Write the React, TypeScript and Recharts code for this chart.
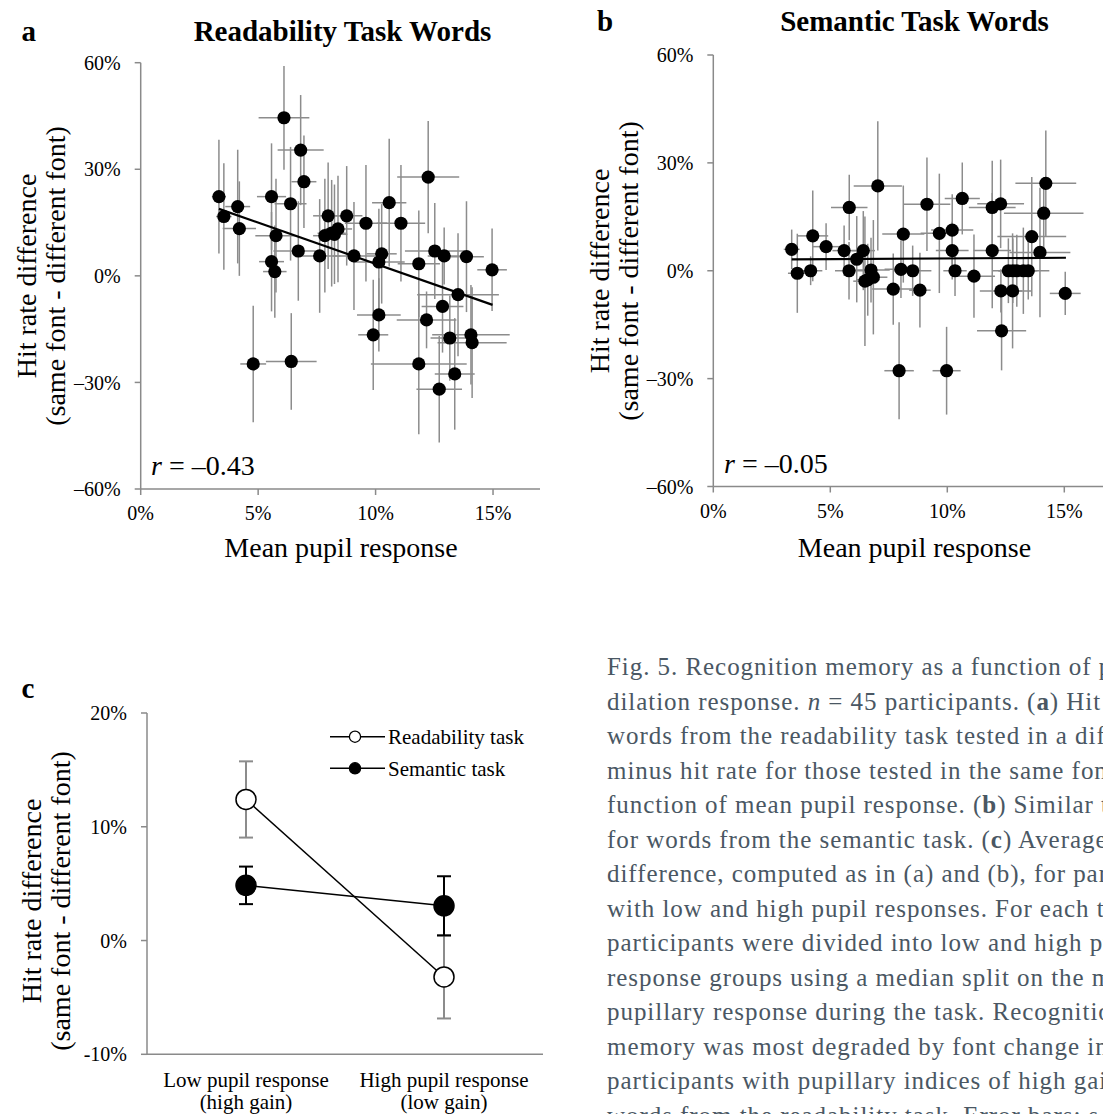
import React from 'react';
import {
  ScatterChart, Scatter, XAxis, YAxis, ErrorBar, ReferenceLine,
  LineChart, Line, Legend,
} from 'recharts';

const FONT = '"Liberation Serif", "Times New Roman", serif';

// ---------- Panel a: Readability task words ----------
const readPupil = [6.10, 6.81, 6.95, 3.33, 5.57, 6.38, 4.13, 3.54, 7.98, 4.20, 5.76, 7.84, 8.13, 8.40, 6.71, 7.62, 5.57, 5.71, 4.79, 6.41, 8.77, 9.59, 10.58, 11.08, 12.24, 9.08, 10.26, 10.14, 11.84, 12.52, 12.92, 13.87, 14.96, 13.51, 12.85, 12.17, 10.14, 9.90, 13.16, 14.06, 14.11, 11.84, 13.37, 12.71, 8.25];
const readHit = [44.5, 35.4, 26.5, 22.3, 22.3, 20.3, 19.5, 16.7, 16.9, 13.3, 11.3, 11.3, 12.0, 13.2, 7.0, 5.6, 4.0, 1.2, -24.8, -24.1, 16.9, 14.8, 20.6, 14.8, 27.8, 5.6, 6.2, 3.9, 3.4, 7.0, 5.6, 5.4, 1.7, -5.3, -8.6, -12.4, -11.0, -16.6, -17.5, -16.6, -18.8, -24.8, -27.6, -31.9, 11.7];
const readPupilErr = [1.08, 0.98, 0.53, 0.30, 0.62, 0.68, 0.53, 0.33, 0.64, 0.71, 0.88, 0.50, 0.60, 0.60, 1.06, 0.88, 0.53, 0.50, 0.55, 1.08, 0.67, 0.90, 0.73, 1.03, 1.32, 0.90, 0.64, 1.10, 0.90, 1.27, 0.70, 0.74, 0.63, 1.74, 0.89, 1.27, 0.93, 0.64, 0.82, 1.65, 1.47, 2.04, 0.85, 0.97, 0.55];
const readHitErr = [14.6, 15.5, 13, 16, 15, 16, 16, 15, 15, 13.3, 16, 16, 15, 15, 14, 16, 14, 13, 16.4, 13.6, 14, 16.4, 18, 16.4, 15.8, 15.2, 14, 15, 15, 13.5, 8, 15.6, 11.6, 17.3, 13, 8, 10.3, 15.5, 12, 14, 15.6, 19.8, 15.7, 15, 14];
const readFitX = [3.33, 14.98];
const readFitY = [18.85, -8.16];

// ---------- Panel b: Semantic task words ----------
const semPupil = [3.35, 3.59, 4.16, 4.25, 4.82, 5.59, 5.81, 5.80, 6.13, 6.41, 6.74, 6.84, 6.48, 7.03, 7.69, 8.02, 8.52, 8.12, 8.83, 9.13, 9.66, 7.94, 9.97, 10.21, 10.21, 10.33, 10.64, 11.14, 11.92, 12.28, 11.92, 12.29, 12.79, 12.32, 12.61, 12.97, 13.25, 13.46, 13.61, 13.96, 14.12, 14.21, 15.04, 6.60, 12.80];
const semHit = [5.95, -0.7, 0.0, 9.7, 6.7, 5.6, 17.6, 0.0, 3.2, 5.6, 0.2, -1.8, -2.9, 23.6, -5.1, 0.4, 0.0, 10.2, -5.4, 18.5, 10.4, -27.8, -27.8, 11.3, 5.6, 0.0, 20.1, -1.5, 17.6, 18.6, 5.6, -5.6, -5.6, -16.7, 0.0, 0.0, 0.0, 0.0, 9.5, 5.1, 16.0, 24.3, -6.3, -2.5, 0.0];
const semPupilErr = [0.34, 0.4, 0.5, 0.66, 0.6, 0.5, 0.78, 0.6, 0.5, 0.5, 0.8, 0.6, 0.5, 1.03, 0.9, 0.7, 0.8, 0.9, 0.46, 1.0, 0.8, 0.63, 0.6, 0.9, 0.7, 0.5, 0.75, 0.9, 1.0, 1.0, 0.8, 0.9, 0.8, 1.05, 0.7, 0.8, 0.6, 0.9, 1.47, 1.3, 1.7, 1.3, 0.66, 0.5, 0.6];
const semHitErr = [5.5, 11, 4, 12.6, 6.5, 7, 9.1, 8, 12, 11, 9, 15.9, 18, 18, 9.9, 8, 7, 13.5, 10.4, 13, 16.6, 13.5, 12.2, 10, 8, 7, 10, 11.6, 13, 12.3, 16, 6, 16, 11, 9, 10, 12, 8, 16.6, 18, 10, 14.7, 6, 10, 9];
const semFitX = [3.35, 15.07];
const semFitY = [3.17, 3.62];

// ---------- Ticks ----------
const scatterXTicks = [0, 5, 10, 15];
const scatterXTickLabels = ['0%', '5%', '10%', '15%'];
const scatterYTicks = [-60, -30, 0, 30, 60];
const scatterYTickLabels = ['–60%', '–30%', '0%', '30%', '60%'];

// ---------- Panel c ----------
const groups = ['Low pupil response', 'High pupil response'];
const groupsSub = ['(high gain)', '(low gain)'];
const readGroupMean = [12.4, -3.2];
const readGroupErr = [3.35, 3.65];
const semGroupMean = [4.85, 3.05];
const semGroupErr = [1.65, 2.6];
const seriesNames = ['Readability task', 'Semantic task'];
const groupYTicks = [-10, 0, 10, 20];
const groupYTickLabels = ['-10%', '0%', '10%', '20%'];
const groupEdgeTicks = [0, 1, 2];

const captionLines = [
  'Fig. 5. Recognition memory as a function of pupil',
  'dilation response. _n_ = 45 participants. (**a**) Hit rate for',
  'words from the readability task tested in a different font',
  'minus hit rate for those tested in the same font as a',
  'function of mean pupil response. (**b**) Similar to (a) but',
  'for words from the semantic task. (**c**) Average hit rate',
  'difference, computed as in (a) and (b), for participants',
  'with low and high pupil responses. For each task,',
  'participants were divided into low and high pupil',
  'response groups using a median split on the mean',
  'pupillary response during the task. Recognition',
  'memory was most degraded by font change in',
  'participants with pupillary indices of high gain for',
  'words from the readability task. Error bars: s.e.m.',
];

const axisStyle = { stroke: '#8a8a8a', strokeWidth: 1.5 };
const tickText = { fill: '#000', fontSize: 20, fontFamily: FONT };

const fmt = (ticks: number[], labels: string[]) => (v: number) => {
  const i = ticks.indexOf(v);
  return i >= 0 ? labels[i] : `${v}%`;
};

const Dot = (props: any) => {
  const { cx, cy } = props;
  if (cx == null || cy == null) return null;
  return <circle cx={cx} cy={cy} r={6.6} fill="#000" />;
};

type ScatterProps = {
  xs: number[]; ys: number[]; exs: number[]; eys: number[];
  fitX: number[]; fitY: number[];
  margin: { top: number; right: number; bottom: number; left: number };
};

function ScatterPanel({ xs, ys, exs, eys, fitX, fitY, margin }: ScatterProps) {
  const data = xs.map((x, i) => ({ x, y: ys[i], ex: exs[i], ey: eys[i] }));
  return (
    <ScatterChart width={560} height={580} margin={margin}>
      <XAxis
        type="number" dataKey="x" domain={[0, 17]} ticks={scatterXTicks} allowDataOverflow
        interval={0} tickFormatter={fmt(scatterXTicks, scatterXTickLabels)}
        height={40} tickSize={6} tickMargin={11}
        axisLine={axisStyle} tickLine={axisStyle} tick={tickText}
      />
      <YAxis
        type="number" dataKey="y" domain={[-60, 60]} ticks={scatterYTicks} allowDataOverflow
        interval={0} tickFormatter={fmt(scatterYTicks, scatterYTickLabels)}
        width={60} tickSize={6} tickMargin={14}
        axisLine={axisStyle} tickLine={axisStyle} tick={tickText}
      />
      <Scatter data={data} isAnimationActive={false} shape={Dot}>
        <ErrorBar dataKey="ex" direction="x" width={0} stroke="#8c8c8c" strokeWidth={1.5} isAnimationActive={false} />
        <ErrorBar dataKey="ey" direction="y" width={0} stroke="#8c8c8c" strokeWidth={1.5} isAnimationActive={false} />
      </Scatter>
      <ReferenceLine
        segment={[{ x: fitX[0], y: fitY[0] }, { x: fitX[1], y: fitY[1] }]}
        stroke="#000" strokeWidth={2.2}
      />
    </ScatterChart>
  );
}

const CatTick = (props: any) => {
  const { x, y, payload } = props;
  const idx = Math.round(payload.value - 0.5);
  return (
    <text x={x} y={y} textAnchor="middle" fontSize={21} fill="#000" fontFamily={FONT}>
      <tspan x={x} dy={15}>{groups[idx]}</tspan>
      <tspan x={x} dy={22}>{groupsSub[idx]}</tspan>
    </text>
  );
};

const LegendBox = () => {
  const rows = [
    { name: seriesNames[0], fill: '#fff' },
    { name: seriesNames[1], fill: '#000' },
  ];
  return (
    <svg width={230} height={62} style={{ overflow: 'visible' }}>
      {rows.map((r, i) => {
        const cy = 12.7 + i * 31.6;
        return (
          <g key={r.name}>
            <line x1={8} y1={cy} x2={63} y2={cy} stroke="#000" strokeWidth={1.5} />
            <circle cx={33} cy={cy} r={5.6} fill={r.fill} stroke="#000" strokeWidth={1.3} />
            <text x={66} y={cy + 7.3} fontSize={21} fill="#000" fontFamily={FONT}>{r.name}</text>
          </g>
        );
      })}
    </svg>
  );
};

function GroupPanel() {
  const data = groups.map((g, i) => ({
    x: i + 0.5,
    name: g,
    read: readGroupMean[i],
    readErr: readGroupErr[i],
    sem: semGroupMean[i],
    semErr: semGroupErr[i],
  }));
  return (
    <LineChart width={560} height={474} data={data} margin={{ top: 73, right: 17, bottom: 0.7, left: 87 }}>
      <XAxis
        xAxisId={0} type="number" dataKey="x" domain={[0, 2]} ticks={groupEdgeTicks}
        allowDataOverflow interval={0} tick={false} height={10} tickSize={6}
        axisLine={axisStyle} tickLine={axisStyle}
      />
      <XAxis
        xAxisId={1} type="number" dataKey="x" domain={[0, 2]} ticks={groups.map((_, i) => i + 0.5)}
        allowDataOverflow interval={0} axisLine={false} tickLine={false} height={49}
        tick={(p: any) => <CatTick {...p} />}
      />
      <YAxis
        type="number" domain={[-10, 20]} ticks={groupYTicks} allowDataOverflow interval={0}
        tickFormatter={fmt(groupYTicks, groupYTickLabels)}
        width={60} tickSize={6} tickMargin={14}
        axisLine={axisStyle} tickLine={axisStyle} tick={tickText}
      />
      <Legend
        layout="vertical" align="center" verticalAlign="middle"
        wrapperStyle={{ position: 'absolute', left: 322, top: 84, width: 230, height: 62 }}
        content={() => <LegendBox />}
      />
      <Line
        xAxisId={0} dataKey="read" name={seriesNames[0]} stroke="#000" strokeWidth={1.5}
        dot={{ r: 10, fill: '#fff', stroke: '#000', strokeWidth: 1.5 }} isAnimationActive={false}
      >
        <ErrorBar dataKey="readErr" direction="y" width={7} stroke="#8c8c8c" strokeWidth={2} isAnimationActive={false} />
      </Line>
      <Line
        xAxisId={0} dataKey="sem" name={seriesNames[1]} stroke="#000" strokeWidth={1.5}
        dot={{ r: 10, fill: '#000', stroke: '#000', strokeWidth: 1.5 }} isAnimationActive={false}
      >
        <ErrorBar dataKey="semErr" direction="y" width={7} stroke="#000" strokeWidth={2} isAnimationActive={false} />
      </Line>
    </LineChart>
  );
}

function CaptionLine({ text, x, y }: { text: string; x: number; y: number }) {
  const parts = text.split(/(\*\*[^*]+\*\*|_[^_]+_)/).filter((s) => s.length > 0);
  return (
    <text x={x} y={y} fontSize={25} fill="#4a5763" fontFamily={FONT} style={{ letterSpacing: '0.95px' }}>
      {parts.map((p, i) => {
        if (p.startsWith('**')) return <tspan key={i} fontWeight="bold">{p.slice(2, -2)}</tspan>;
        if (p.startsWith('_')) return <tspan key={i} fontStyle="italic">{p.slice(1, -1)}</tspan>;
        return <tspan key={i}>{p}</tspan>;
      })}
    </text>
  );
}

export default function App() {
  return (
    <div style={{ position: 'fixed', left: 0, top: 0, width: 1103, height: 1114, overflow: 'hidden', background: '#fff', fontFamily: FONT }}>
      <div style={{ position: 'absolute', left: 0, top: 0 }}>
        <ScatterPanel
          xs={readPupil} ys={readHit} exs={readPupilErr} eys={readHitErr}
          fitX={readFitX} fitY={readFitY}
          margin={{ top: 62.7, right: 20, bottom: 51, left: 80.7 }}
        />
      </div>
      <div style={{ position: 'absolute', left: 560, top: 0 }}>
        <ScatterPanel
          xs={semPupil} ys={semHit} exs={semPupilErr} eys={semHitErr}
          fitX={semFitX} fitY={semFitY}
          margin={{ top: 55, right: 8.9, bottom: 53.5, left: 93.3 }}
        />
      </div>
      <div style={{ position: 'absolute', left: 0, top: 640 }}>
        <GroupPanel />
      </div>
      <svg width={1103} height={1114} style={{ position: 'absolute', left: 0, top: 0, pointerEvents: 'none' }} fontFamily={FONT}>
        {/* panel letters and titles */}
        <text x={21.5} y={40.7} fontSize={29} fontWeight="bold">a</text>
        <text x={342.5} y={40.7} fontSize={29} fontWeight="bold" textAnchor="middle">Readability Task Words</text>
        <text x={597} y={30.7} fontSize={29} fontWeight="bold">b</text>
        <text x={914.5} y={30.7} fontSize={29} fontWeight="bold" textAnchor="middle">Semantic Task Words</text>
        <text x={21.5} y={698} fontSize={29} fontWeight="bold">c</text>

        {/* axis titles */}
        <text x={341} y={557} fontSize={28} textAnchor="middle">Mean pupil response</text>
        <text x={914.5} y={557} fontSize={28} textAnchor="middle">Mean pupil response</text>
        <text transform="translate(36,276) rotate(-90)" fontSize={28} textAnchor="middle">Hit rate difference</text>
        <text transform="translate(65,276) rotate(-90)" fontSize={28} textAnchor="middle">(same font - different font)</text>
        <text transform="translate(609,271) rotate(-90)" fontSize={28} textAnchor="middle">Hit rate difference</text>
        <text transform="translate(638,271) rotate(-90)" fontSize={28} textAnchor="middle">(same font - different font)</text>
        <text transform="translate(41,901) rotate(-90)" fontSize={28} textAnchor="middle">Hit rate difference</text>
        <text transform="translate(70,901) rotate(-90)" fontSize={28} textAnchor="middle">(same font - different font)</text>

        {/* correlation annotations */}
        <text x={151} y={475} fontSize={28}><tspan fontStyle="italic">r</tspan> = –0.43</text>
        <text x={724} y={473} fontSize={28}><tspan fontStyle="italic">r</tspan> = –0.05</text>

        {/* caption */}
        {captionLines.map((l, i) => (
          <CaptionLine key={i} text={l} x={607} y={675 + i * 34.5} />
        ))}
      </svg>
    </div>
  );
}
